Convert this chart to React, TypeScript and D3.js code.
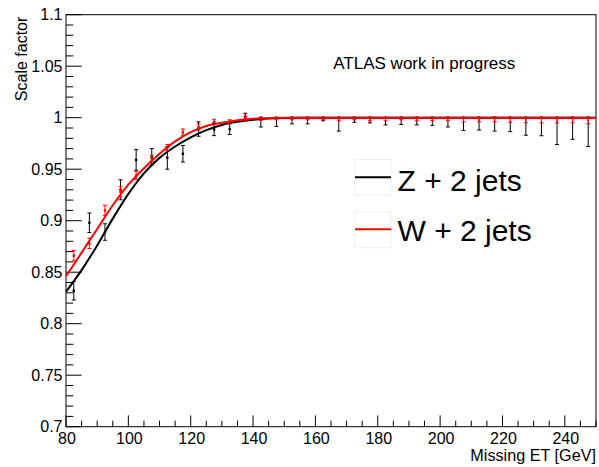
import React from "react";
import * as d3 from "d3";

const binCenters = [82.5, 87.5, 92.5, 97.5, 102.5, 107.5, 112.5, 117.5, 122.5, 127.5, 132.5, 137.5, 142.5, 147.5, 152.5, 157.5, 162.5, 167.5, 172.5, 177.5, 182.5, 187.5, 192.5, 197.5, 202.5, 207.5, 212.5, 217.5, 222.5, 227.5, 232.5, 237.5, 242.5, 247.5];

const zValues = [0.832, 0.898, 0.889, 0.930, 0.959, 0.962, 0.961, 0.965, 0.989, 0.9886, 0.989, 1.001, 1, 1, 1, 1, 1, 1, 1, 1, 1, 1, 1, 1, 1, 1, 1, 1, 1, 1, 1, 1, 1, 1];
const zErrLow = [0.009, 0.0095, 0.008, 0.0097, 0.010, 0.008, 0.011, 0.008, 0.007, 0.006, 0.0053, 0.0033, 0.009, 0.0085, 0.006, 0.006, 0.003, 0.013, 0.0045, 0.005, 0.007, 0.0065, 0.007, 0.0075, 0.009, 0.0125, 0.012, 0.013, 0.0135, 0.017, 0.0175, 0.026, 0.021, 0.028];
const zErrHigh = [0.009, 0.0095, 0.008, 0.0097, 0.010, 0.008, 0.011, 0.008, 0.007, 0.006, 0.0053, 0.0033, 0, 0, 0, 0, 0, 0, 0, 0, 0, 0, 0, 0, 0, 0, 0, 0, 0, 0, 0, 0, 0, 0];

const wValues = [0.866, 0.878, 0.910, 0.928, 0.944, 0.9605, 0.971, 0.986, 0.991, 0.996, 0.996, 0.999, 1, 1, 1, 1, 1, 1, 1, 1, 1, 1, 1, 1, 1, 1, 1, 1, 1, 1, 1, 1, 1, 1];
const wErrLow = [0.005, 0.005, 0.005, 0.005, 0.004, 0.003, 0.003, 0.003, 0.003, 0.0025, 0.002, 0.002, 0.0025, 0.002, 0.002, 0.002, 0.002, 0.003, 0.002, 0.003, 0.003, 0.002, 0.003, 0.003, 0.003, 0.004, 0.004, 0.004, 0.0045, 0.005, 0.005, 0.005, 0.005, 0.006];
const wErrHigh = [0.005, 0.005, 0.005, 0.005, 0.004, 0.003, 0.003, 0.003, 0.003, 0.0025, 0.002, 0.002, 0, 0, 0, 0, 0, 0, 0, 0, 0, 0, 0, 0, 0, 0, 0, 0, 0, 0, 0, 0, 0, 0];

const fitX = [80, 85, 90, 95, 100, 105, 110, 115, 120, 125, 130, 135, 140, 145, 150, 155, 160, 250];
const zFit = [0.831, 0.852, 0.876, 0.902, 0.926, 0.946, 0.961, 0.972, 0.981, 0.988, 0.993, 0.996, 0.998, 0.9992, 0.9998, 1.0, 1.0, 1.0];
const wFit = [0.846, 0.869, 0.892, 0.915, 0.935, 0.951, 0.965, 0.977, 0.986, 0.992, 0.995, 0.9975, 0.999, 0.9997, 1.0, 1.0, 1.0, 1.0];

const xMajorTicks = [80, 100, 120, 140, 160, 180, 200, 220, 240];
const yMajorTicks = [0.7, 0.75, 0.8, 0.85, 0.9, 0.95, 1, 1.05, 1.1];
const yTickLabels = ["0.7", "0.75", "0.8", "0.85", "0.9", "0.95", "1", "1.05", "1.1"];

const legendLabels = ["Z + 2 jets", "W + 2 jets"];
const seriesColors = ["#000000", "#ff0000"];

const W = 599;
const H = 467;
const left = 66;
const right = 596;
const top = 14.7;
const bottom = 426.7;
const FONT = "'Liberation Sans', Arial, Helvetica, sans-serif";

export default function App() {
  const x = d3.scaleLinear().domain([80, 250]).range([left, right]);
  const y = d3.scaleLinear().domain([0.7, 1.1]).range([bottom, top]);

  const xMinor = d3.range(80, 250.01, 5);
  const yMinor = d3.range(0, 41).map((i) => 0.7 + i * 0.01);

  const line = d3
    .line<number>()
    .x((_, i) => x(fitX[i]))
    .y((d) => y(d))
    .curve(d3.curveMonotoneX);

  const renderPoints = (vals: number[], lo: number[], hi: number[], color: string) =>
    binCenters.map((c, i) => {
      const px = x(c);
      const y0 = y(vals[i] - lo[i]);
      const y1 = y(vals[i] + hi[i]);
      const py = y(vals[i]);
      return (
        <g key={`${color}-${i}`} stroke={color} strokeWidth={1}>
          <line x1={px} x2={px} y1={y0} y2={y1} />
          <line x1={px - 2} x2={px + 2} y1={y0} y2={y0} />
          <line x1={px - 2} x2={px + 2} y1={y1} y2={y1} />
          <rect x={px - 1.2} y={py - 1.2} width={2.4} height={2.4} fill={color} stroke="none" />
        </g>
      );
    });

  return (
    <svg
      width={W}
      height={H}
      style={{ position: "absolute", left: 0, top: 0, background: "#fff" }}
      fontFamily={FONT}
    >
      <rect x={0} y={0} width={W} height={H} fill="#fff" />
      {/* frame */}
      <rect x={left} y={top} width={right - left} height={bottom - top} fill="none" stroke="#000" strokeWidth={1} />

      {/* x ticks */}
      {xMinor.map((t) => {
        const major = xMajorTicks.includes(t);
        return (
          <line key={`xm${t}`} x1={x(t)} x2={x(t)} y1={bottom} y2={bottom - (major ? 11.3 : 6)} stroke="#000" strokeWidth={1} />
        );
      })}
      {xMajorTicks.map((t) => (
        <text key={`xl${t}`} x={x(t) + 1} y={444} fontSize={16} textAnchor="middle" fill="#000">
          {t}
        </text>
      ))}

      {/* y ticks */}
      {yMinor.map((t, i) => {
        const major = i % 5 === 0;
        return (
          <line key={`ym${i}`} x1={left} x2={left + (major ? 15.7 : 7.3)} y1={y(t)} y2={y(t)} stroke="#000" strokeWidth={1} />
        );
      })}
      {yMajorTicks.map((t, i) => (
        <text key={`yl${i}`} x={62.5} y={y(t) + 5.7} fontSize={16} textAnchor="end" fill="#000">
          {yTickLabels[i]}
        </text>
      ))}

      {/* axis titles */}
      <text x={596} y={461} fontSize={16.2} textAnchor="end" fill="#000">
        Missing ET [GeV]
      </text>
      <text transform="translate(26.5,16.7) rotate(-90)" fontSize={16} textAnchor="end" fill="#000">
        Scale factor
      </text>

      {/* fits */}
      <path d={line(zFit) || ""} fill="none" stroke={seriesColors[0]} strokeWidth={2} />
      <path d={line(wFit) || ""} fill="none" stroke={seriesColors[1]} strokeWidth={2} />

      {/* data points */}
      {renderPoints(zValues, zErrLow, zErrHigh, seriesColors[0])}
      {renderPoints(wValues, wErrLow, wErrHigh, seriesColors[1])}

      {/* annotation */}
      <text x={333.3} y={69.3} fontSize={17} fill="#000">
        ATLAS work in progress
      </text>

      {/* legend */}
      {legendLabels.map((lab, i) => {
        const by = i === 0 ? 159.3 : 211.7;
        const ly = i === 0 ? 177.3 : 229.3;
        const ty = i === 0 ? 190.7 : 241;
        return (
          <g key={lab}>
            <rect x={355} y={by} width={36} height={36} fill="#fff" stroke="#eeeeee" strokeWidth={1} />
            <line x1={355} x2={391} y1={ly} y2={ly} stroke={seriesColors[i]} strokeWidth={2} />
            <text x={397.5} y={ty} fontSize={30} fill="#000">
              {lab}
            </text>
          </g>
        );
      })}
    </svg>
  );
}
